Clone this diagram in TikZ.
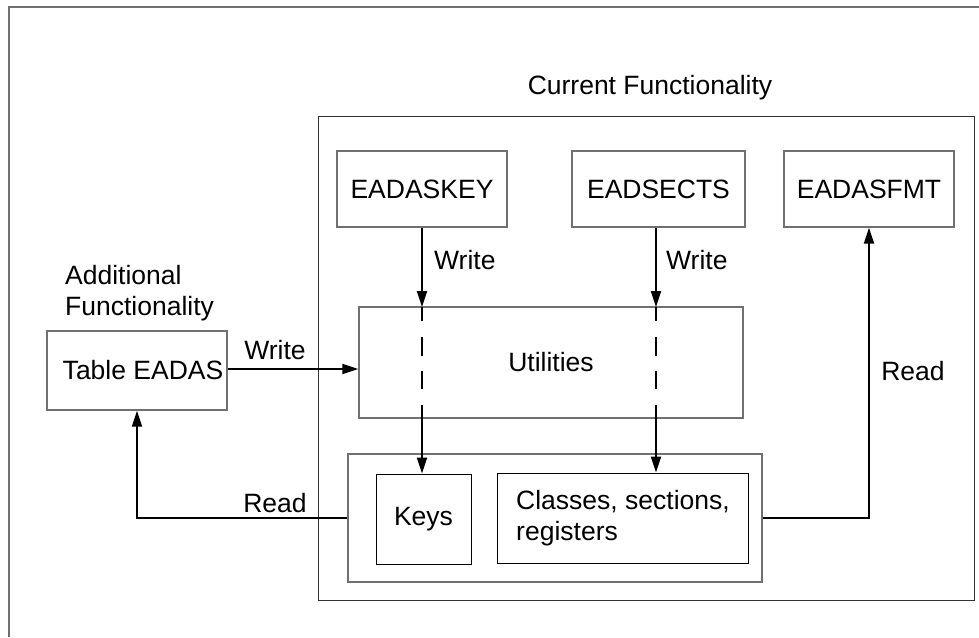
\documentclass[tikz,border=0pt]{standalone}
\usepackage{fontspec}
\setmainfont{Liberation Sans}
\usetikzlibrary{arrows.meta}
\definecolor{boxgray}{HTML}{707070}
\tikzset{
  x=1pt, y=-1pt,
  every node/.style={font=\fontsize{26.5}{31}\selectfont, inner sep=0pt},
  graybox/.style={draw=boxgray, line width=1.3pt},
  blackbox/.style={draw=black, line width=1pt},
  arr/.style={line width=2pt, -{Triangle[length=16pt,width=10pt]}},
  plain/.style={line width=2pt},
  dashline/.style={line width=2pt, dash pattern=on 15pt off 15pt on 19pt off 15pt on 18pt off 20pt},
  lbl/.style={text=black}
}
\begin{document}
\begin{tikzpicture}
\useasboundingbox (0,0) rectangle (979,637);
% outer frame (cropped at right and bottom)
\draw[boxgray, line width=1.2pt] (9,637) -- (9,7) -- (979,7);
% current functionality box
\node[draw=black!80, line width=1pt, minimum width=655.5pt, minimum height=484pt] (cur) at (646.25,358) {};
\node[lbl] (curlbl) at (650,88) {Current Functionality};
% top boxes
\node[graybox, minimum width=170pt, minimum height=76pt] (key) at (422,189) {EADASKEY};
\node[graybox, minimum width=173pt, minimum height=76pt] (sect) at (658.5,189) {EADSECTS};
\node[graybox, minimum width=170pt, minimum height=76pt] (fmt) at (869,189) {EADASFMT};
% utilities
\node[graybox, minimum width=384pt, minimum height=111pt] (util) at (551,362.5) {Utilities};
% group box
\node[graybox, minimum width=414pt, minimum height=128pt] (grp) at (555,518) {};
\node[blackbox, minimum width=95pt, minimum height=90pt] (keys) at (423.5,519) {Keys};
\node[blackbox, minimum width=251pt, minimum height=90pt, align=left] (cls) at (623,518) {Classes, sections,\\registers};
% additional functionality
\node[lbl, align=left, anchor=west] (addlbl) at (65,293) {Additional\\Functionality};
\node[graybox, minimum width=180pt, minimum height=79pt] (tab) at (137,370.5) {\hspace{12pt}Table EADAS};
% connector helper coordinates
\coordinate (k1) at (422,307);
\coordinate (k2) at (422,405);
\coordinate (s1) at (656,307);
\coordinate (s2) at (656,405);
% write arrows from top boxes
\draw[arr] (key.south -| k1) -- (k1);
\draw[line width=2pt, dash pattern=on 14pt off 16pt on 19pt off 15pt on 18pt off 16pt] (k1) -- (k2);
\draw[arr] (k2) -- (keys.north -| k2);
\node[lbl, anchor=west] (w1) at (434,260) {Write};
\draw[arr] (sect.south -| s1) -- (s1);
\draw[line width=2pt, dash pattern=on 14pt off 16pt on 19pt off 15pt on 18pt off 16pt] (s1) -- (s2);
\draw[arr] (s2) -- (cls.north -| s2);
\node[lbl, anchor=west] (w2) at (666,260) {Write};
% table -> utilities
\draw[arr] (tab.east |- 0,369) -- (util.west |- 0,369);
\node[lbl] (w3) at (275,350) {Write};
% read to table
\draw[arr] (grp.west) -| (tab.south);
\node[lbl] (r1) at (275,503) {Read};
% read to EADASFMT
\draw[arr] (grp.east) -| (fmt.south);
\node[lbl] (r2) at (913,371) {Read};
\end{tikzpicture}
\end{document}
